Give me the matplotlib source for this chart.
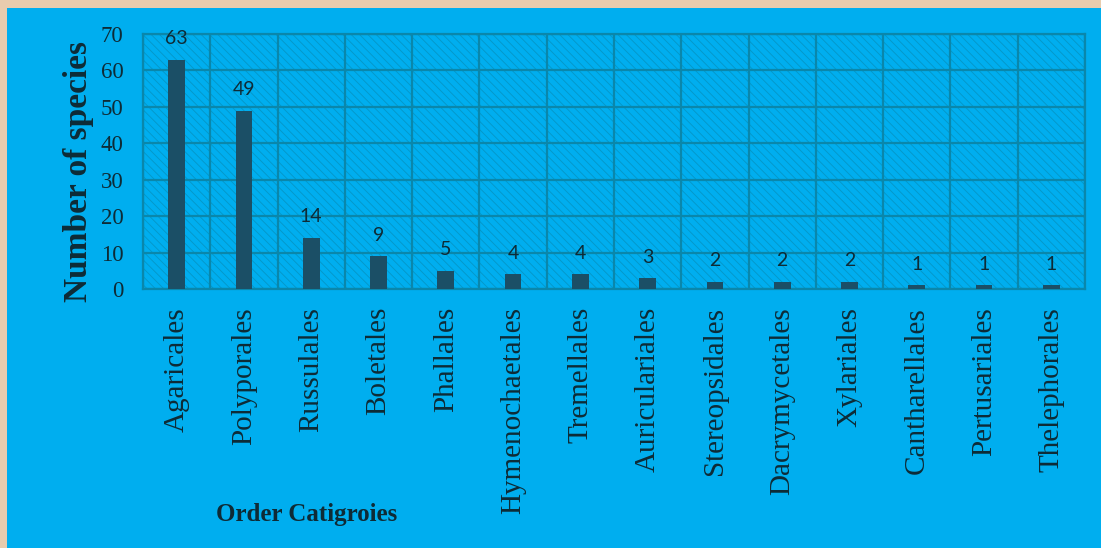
import matplotlib

matplotlib.use("Agg")
import matplotlib.pyplot as plt
from matplotlib.patches import Rectangle

# ─── Data ─────────────────────────────────────────────────────────────
orders = ["Agaricales", "Polyporales", "Russulales", "Boletales", "Phallales",
          "Hymenochaetales", "Tremellales", "Auriculariales", "Stereopsidales",
          "Dacrymycetales", "Xylariales", "Cantharellales", "Pertusariales",
          "Thelephorales"]
species = [63, 49, 14, 9, 5, 4, 4, 3, 2, 2, 2, 1, 1, 1]
yticks = [0, 10, 20, 30, 40, 50, 60, 70]

BG = "#00AEEF"
FRAME = "#E8CCAE"
GRID = "#0A87AB"
BAR = "#1B4F66"
TXT = "#0E2B36"
plt.rcParams["hatch.linewidth"] = 0.6

fig = plt.figure(figsize=(11.01, 5.48), dpi=100, facecolor=BG)
# beige frame strips (top and left)
fig.patches.append(Rectangle((0, 1 - 8 / 548), 1, 8 / 548, transform=fig.transFigure,
                             facecolor=FRAME, edgecolor="none"))
fig.patches.append(Rectangle((0, 0), 7 / 1101, 1, transform=fig.transFigure,
                             facecolor=FRAME, edgecolor="none"))

ax = fig.add_axes([143 / 1101, 1 - 289 / 548, 942 / 1101, 255 / 548])
ax.set_facecolor(BG)
ax.add_patch(Rectangle((0, 0), 1, 1, transform=ax.transAxes, facecolor="none",
                       edgecolor="#0596C6", hatch="\\\\\\\\", linewidth=0, zorder=0))

x = range(len(orders))
ax.bar(x, species, width=0.25, color=BAR, zorder=3)
for xi, v in zip(x, species):
    ax.annotate(str(v), (xi, v), xytext=(0, 9), textcoords="offset points",
                ha="center", va="bottom", fontsize=14, family="Lato",
                color=TXT, zorder=4)

ax.set_xlim(-0.5, len(orders) - 0.5)
ax.set_ylim(0, 70)
ax.set_yticks(yticks)
ax.set_xticks(x)
ax.set_xticklabels(orders, rotation=90, family="Liberation Serif", fontsize=21, color=TXT)
ax.tick_params(axis="y", length=0, pad=14, labelsize=16.5, labelcolor=TXT)
ax.tick_params(axis="x", length=0, pad=13)
for lbl in ax.get_yticklabels():
    lbl.set_family("Liberation Serif")

# grid: horizontal at ticks, vertical at category boundaries
for y in yticks:
    ax.axhline(y, color=GRID, lw=1.6, zorder=1)
for b in range(len(orders) + 1):
    ax.axvline(b - 0.5, color=GRID, lw=1.6, zorder=1)
for s in ax.spines.values():
    s.set_color(GRID)
    s.set_linewidth(1.6)

fig.text(79 / 1101, 1 - 172 / 548, "Number of species", family="Liberation Serif",
         fontsize=24, fontweight="bold", color=TXT, rotation=90,
         ha="center", va="center")
fig.text(307 / 1101, 1 - 515 / 548, "Order Catigroies", family="Liberation Serif",
         fontsize=18, fontweight="bold", color=TXT, ha="center", va="center")

fig.savefig("out.png", dpi=100, facecolor=fig.get_facecolor())
